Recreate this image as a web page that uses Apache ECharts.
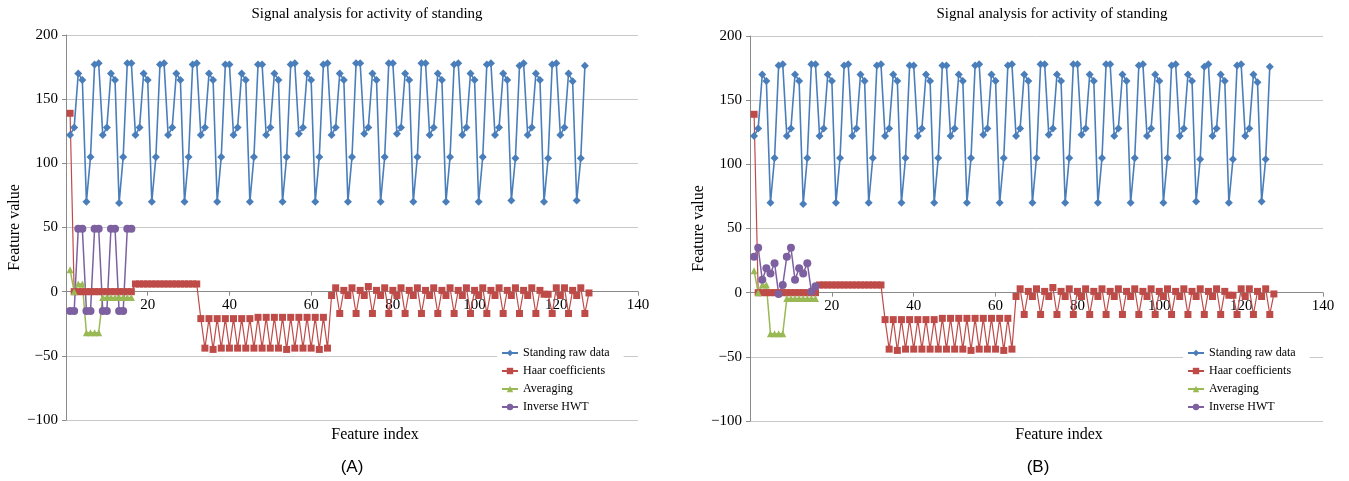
<!DOCTYPE html>
<html>
<head>
<meta charset="utf-8">
<title>Signal analysis for activity of standing</title>
<script src="https://cdn.jsdelivr.net/npm/echarts@6/dist/echarts.min.js"></script>
<style>
  html, body { margin: 0; padding: 0; background: #fff; }
  #chart { width: 1349px; height: 481px; }
</style>
</head>
<body>
<div id="chart"></div>
<script>
// raw standing signal, feature index 1..127
const rawData = [
  122, 128, 170, 165, 70, 105, 177, 178,
  122, 128, 170, 165, 69, 105, 178, 178,
  122, 128, 170, 165, 70, 105, 177, 178,
  122, 128, 170, 165, 70, 105, 177, 178,
  122, 128, 170, 165, 70, 105, 177, 177,
  122, 128, 170, 165, 70, 105, 177, 177,
  122, 128, 170, 165, 70, 105, 177, 178,
  123, 128, 170, 165, 70, 105, 177, 178,
  122, 128, 170, 165, 70, 105, 178, 178,
  123, 128, 170, 165, 70, 105, 178, 178,
  123, 128, 170, 165, 70, 105, 178, 178,
  122, 128, 170, 165, 70, 105, 177, 178,
  122, 128, 170, 165, 70, 105, 177, 178,
  122, 128, 170, 165, 71, 104, 176, 178,
  122, 128, 170, 165, 70, 104, 177, 178,
  122, 128, 170, 164, 71, 104, 176
]

// Haar coefficients, feature index 1..128
const haarCoef = [
  139, 0, 0, 0, 0, 0, 0, 0, 0, 0, 0, 0, 0, 0, 0, 0,
  6, 6, 6, 6, 6, 6, 6, 6, 6, 6, 6, 6, 6, 6, 6, 6,
  -21, -44, -21, -45, -21, -44, -21, -44, -21, -44, -21, -44, -21, -44, -20, -44,
  -20, -44, -20, -44, -20, -45, -20, -44, -20, -44, -20, -44, -20, -45, -20, -44,
  -3, 3, -17, 1, -3, 3, -17, 1, -3, 4, -17, 1, -3, 3, -17, 1,
  -3, 3, -17, 1, -3, 3, -17, 1, -3, 3, -17, 1, -3, 3, -17, 1,
  -3, 3, -17, 1, -3, 3, -17, 1, -3, 3, -17, 1, -3, 3, -17, 1,
  -3, 3, -17, 1, -2, -2, -17, 3, -3, 3, -17, 1, -3, 3, -17, -1
]

// averaging, feature index 1..16
const averaging = [17, 0, 6, 6, -32, -32, -32, -32, -4.5, -4.5, -4.5, -4.5, -4.5, -4.5, -4.5, -4.5]

// inverse HWT, panel A and panel B
const inverseA = [-15, -15, 49, 49, -15, -15, 49, 49, -15, -15, 49, 49, -15, -15, 49, 49]
const inverseB = [28, 35, 10, 19, 15, 23, -1, 6, 28, 35, 10, 19, 15, 23, 1, 5]

const yTicks = [-100, -50, 0, 50, 100, 150, 200]
const seriesNames = ['Standing raw data', 'Haar coefficients', 'Averaging', 'Inverse HWT']
const colors = ['#4A7EBB', '#BE4B48', '#98B954', '#7D60A0']

const serif = '"Liberation Serif", "DejaVu Serif", serif'
const toPairs = arr => arr.map((v, i) => [i + 1, v])

const plotH = 385
const yMin = yTicks[0]
const yMax = yTicks[yTicks.length - 1]
// x axis crosses at y = 0, so shift it up from the bottom of the grid
const zeroOffset = -plotH * (0 - yMin) / (yMax - yMin)

const panels = [
  { left: 66, top: 35, width: 572, inverse: inverseA, tag: '(A)', titleX: 362, tagX: 347, legendX: 497 },
  { left: 750, top: 36, width: 573, inverse: inverseB, tag: '(B)', titleX: 1047, tagX: 1033, legendX: 1183 }
]

const chart = echarts.init(document.getElementById('chart'), null, { renderer: 'canvas' })

const option = {
  animation: false,
  color: colors,
  title: [],
  grid: [],
  xAxis: [],
  yAxis: [],
  legend: [],
  series: []
}

panels.forEach((p, k) => {
  option.title.push(
    { text: 'Signal analysis for activity of standing', left: p.titleX, top: 2, textAlign: 'center',
      textStyle: { fontFamily: serif, fontSize: 15, fontWeight: 'normal', color: '#000' } },
    { text: 'Feature index', left: p.left + 304, top: 422, textAlign: 'center',
      textStyle: { fontFamily: serif, fontSize: 16, fontWeight: 'normal', color: '#000' } },
    { text: p.tag, left: p.tagX, top: 454, textAlign: 'center',
      textStyle: { fontFamily: 'Liberation Sans, Arial, sans-serif', fontSize: 17, fontWeight: 'normal', color: '#000' } }
  )
  option.grid.push({ left: p.left, top: p.top, width: p.width, height: plotH, containLabel: false })
  option.xAxis.push({
    type: 'value', gridIndex: k, min: 0, max: 140, interval: 20,
    position: 'bottom', offset: zeroOffset,
    axisLine: { onZero: false, lineStyle: { color: '#8a8a8a', width: 1 } },
    axisTick: { show: true, length: 4, lineStyle: { color: '#8a8a8a' } },
    axisLabel: { showMinLabel: false, fontFamily: serif, fontSize: 15, color: '#000', margin: 6 },
    splitLine: { show: false }
  })
  option.yAxis.push({
    type: 'value', gridIndex: k, min: yMin, max: yMax, interval: 50,
    name: 'Feature value', nameLocation: 'middle', nameGap: 41,
    nameTextStyle: { fontFamily: serif, fontSize: 16, color: '#000' },
    axisLine: { show: true, lineStyle: { color: '#8a8a8a', width: 1 } },
    axisTick: { show: true, length: 4, lineStyle: { color: '#8a8a8a' } },
    axisLabel: { fontFamily: serif, fontSize: 15, color: '#000', margin: 8,
      formatter: v => (v < 0 ? '\u2212' + Math.abs(v) : String(v)) },
    splitLine: { show: true, lineStyle: { color: '#c8c8c8', width: 1 } }
  })
  option.legend.push({
    data: seriesNames, orient: 'vertical', left: p.legendX, top: 343,
    itemWidth: 16, itemHeight: 8, itemGap: 6, padding: [4, 14, 6, 4],
    backgroundColor: '#fff',
    textStyle: { fontFamily: serif, fontSize: 12, color: '#000' }
  })
  const lines = [
    { name: seriesNames[0], data: rawData, symbol: 'diamond', size: 8, width: 1.6 },
    { name: seriesNames[1], data: haarCoef, symbol: 'rect', size: 7, width: 1.2 },
    { name: seriesNames[2], data: averaging, symbol: 'triangle', size: 7, width: 1.5 },
    { name: seriesNames[3], data: p.inverse, symbol: 'circle', size: 8, width: 1.5 }
  ]
  lines.forEach((s, j) => {
    option.series.push({
      type: 'line', name: s.name, xAxisIndex: k, yAxisIndex: k,
      data: toPairs(s.data), symbol: s.symbol, symbolSize: s.size, showSymbol: true,
      lineStyle: { width: s.width, color: colors[j] },
      itemStyle: { color: colors[j] },
      emphasis: { disabled: true }
    })
  })
})

chart.setOption(option)
</script>
</body>
</html>
